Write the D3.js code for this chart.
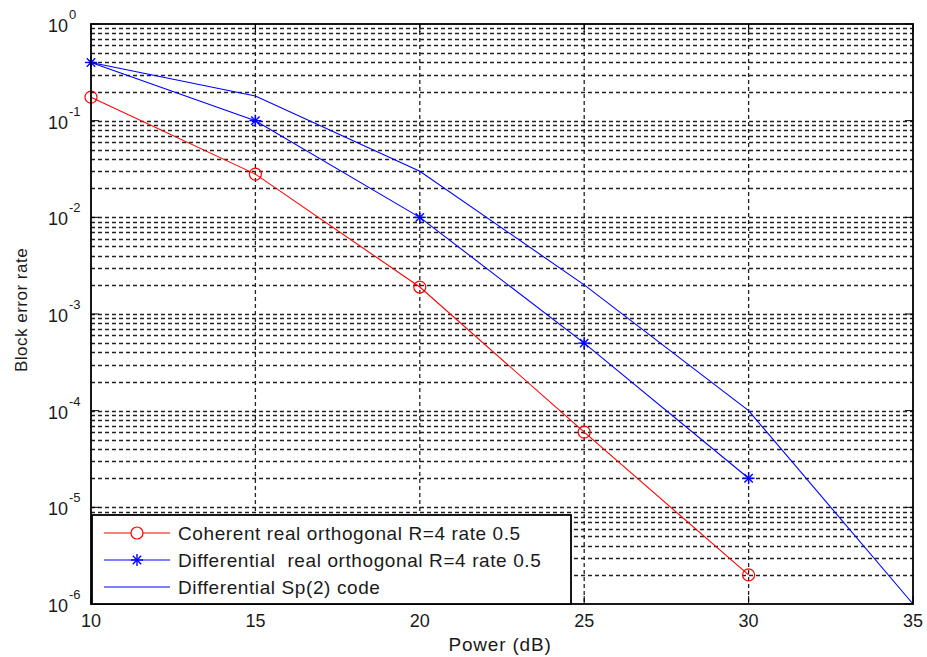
<!DOCTYPE html>
<html>
<head>
<meta charset="utf-8">
<script src="https://cdn.jsdelivr.net/npm/d3@7"></script>
<style>
  body { margin: 0; background: #fff; }
  text { font-family: "Liberation Sans", Arial, sans-serif; fill: #1a1a1a; }
</style>
</head>
<body>
<script>
// data
const powers = [10, 15, 20, 25, 30];
const coherent = [0.175, 0.028, 0.0019, 0.00006, 0.000002];
const differential = [0.4, 0.1, 0.01, 0.0005, 0.00002];
const sp2Powers = [10, 15, 20, 25, 30, 35];
const sp2 = [0.4, 0.18, 0.03, 0.002, 0.0001, 0.000001];
const xTicks = [10, 15, 20, 25, 30, 35];
const decades = [0, -1, -2, -3, -4, -5, -6];
const legendLabels = ['Coherent real orthogonal R=4 rate 0.5', 'Differential  real orthogonal R=4 rate 0.5', 'Differential Sp(2) code'];

const width = 927, height = 657;
const m = {top: 24, left: 91, right: 14, bottom: 53};
const pw = width - m.left - m.right;
const ph = height - m.top - m.bottom;

const svg = d3.select('body').append('svg')
  .attr('width', width).attr('height', height);

const g = svg.append('g').attr('transform', `translate(${m.left},${m.top})`);

const x = d3.scaleLinear().domain([10, 35]).range([0, pw]);
const y = d3.scaleLog().domain([1e-6, 1]).range([ph, 0]);

// grid
const gridCol = '#222';
const dash = '4,3';
xTicks.slice(1, -1).forEach(t => {
  g.append('line').attr('x1', x(t)).attr('x2', x(t)).attr('y1', 0).attr('y2', ph)
    .attr('stroke', gridCol).attr('stroke-dasharray', dash).attr('stroke-width', 1.3);
});
const hLines = [];
decades.forEach(d => {
  if (d > -6 && d < 0) hLines.push(Math.pow(10, d));
  if (d > -6) for (let k = 2; k <= 9; k++) hLines.push(k * Math.pow(10, d - 1));
});
hLines.forEach(v => {
  g.append('line').attr('x1', 0).attr('x2', pw).attr('y1', Math.round(y(v)) + 0.5).attr('y2', Math.round(y(v)) + 0.5)
    .attr('stroke', gridCol).attr('stroke-dasharray', dash).attr('stroke-width', 1.3);
});

// ticks inside
xTicks.forEach(t => {
  g.append('line').attr('x1', x(t)).attr('x2', x(t)).attr('y1', ph).attr('y2', ph - 8).attr('stroke', '#000');
  g.append('line').attr('x1', x(t)).attr('x2', x(t)).attr('y1', 0).attr('y2', 8).attr('stroke', '#000');
  g.append('text').attr('x', x(t)).attr('y', ph + 23).attr('text-anchor', 'middle')
    .attr('font-size', 18).text(t);
});
decades.forEach(d => {
  const yy = y(Math.pow(10, d));
  g.append('line').attr('x1', 0).attr('x2', 8).attr('y1', yy).attr('y2', yy).attr('stroke', '#000');
  g.append('line').attr('x1', pw).attr('x2', pw - 8).attr('y1', yy).attr('y2', yy).attr('stroke', '#000');
  const t = g.append('text').attr('x', -43).attr('y', yy + 8).attr('font-size', 18);
  t.append('tspan').text('10');
  t.append('tspan').attr('dy', -13).attr('dx', 1).attr('font-size', 13).text(d === 0 ? '0' : '-' + Math.abs(d));
});

// lines
const line = (xs) => d3.line().x((d, i) => x(xs[i])).y(d => y(d));
g.append('path').datum(sp2).attr('d', line(sp2Powers)).attr('fill', 'none').attr('stroke', '#0000ff').attr('stroke-width', 1.1);
g.append('path').datum(differential).attr('d', line(powers)).attr('fill', 'none').attr('stroke', '#0000ff').attr('stroke-width', 1.1);
g.append('path').datum(coherent).attr('d', line(powers)).attr('fill', 'none').attr('stroke', '#ff0000').attr('stroke-width', 1.1);

function star(sel, cx, cy, r, col) {
  const s = sel.append('g').attr('transform', `translate(${cx},${cy})`).attr('stroke', col).attr('stroke-width', 1.4);
  s.append('line').attr('x1', -r).attr('x2', r).attr('y1', 0).attr('y2', 0);
  s.append('line').attr('x1', 0).attr('x2', 0).attr('y1', -r).attr('y2', r);
  const q = r * 0.7;
  s.append('line').attr('x1', -q).attr('x2', q).attr('y1', -q).attr('y2', q);
  s.append('line').attr('x1', -q).attr('x2', q).attr('y1', q).attr('y2', -q);
}
coherent.forEach((v, i) => {
  g.append('circle').attr('cx', x(powers[i])).attr('cy', y(v)).attr('r', 6)
    .attr('fill', 'none').attr('stroke', '#ff0000').attr('stroke-width', 1.2);
});
differential.forEach((v, i) => star(g, x(powers[i]), y(v), 6, '#0000ff'));

// axis box
g.append('rect').attr('width', pw).attr('height', ph).attr('fill', 'none').attr('stroke', '#000').attr('stroke-width', 1.8);

// legend
const lg = g.append('g').attr('transform', `translate(1,${ph - 89})`);
lg.append('rect').attr('width', 479).attr('height', 89).attr('fill', '#fff').attr('stroke', '#000').attr('stroke-width', 1.8);
const cols = ['#ff0000', '#0000ff', '#0000ff'];
legendLabels.forEach((lab, i) => {
  const yy = 18 + i * 27;
  lg.append('line').attr('x1', 12).attr('x2', 78).attr('y1', yy).attr('y2', yy).attr('stroke', cols[i]).attr('stroke-width', 1.1);
  if (i === 0) lg.append('circle').attr('cx', 45).attr('cy', yy).attr('r', 6).attr('fill', '#fff').attr('stroke', cols[i]).attr('stroke-width', 1.2);
  if (i === 1) star(lg, 45, yy, 6, cols[i]);
  lg.append('text').attr('x', 86).attr('y', yy + 7).attr('font-size', 19).attr('letter-spacing', 0.6)
    .style('white-space', 'pre').text(lab);
});

// axis labels
svg.append('text').attr('x', 500).attr('y', 651).attr('text-anchor', 'middle').attr('font-size', 19).attr('letter-spacing', 0.8).text('Power (dB)');
svg.append('text').attr('transform', `translate(27,${m.top + ph / 2 - 4}) rotate(-90)`).attr('text-anchor', 'middle').attr('font-size', 17).attr('letter-spacing', 0.5).text('Block error rate');
</script>
</body>
</html>
